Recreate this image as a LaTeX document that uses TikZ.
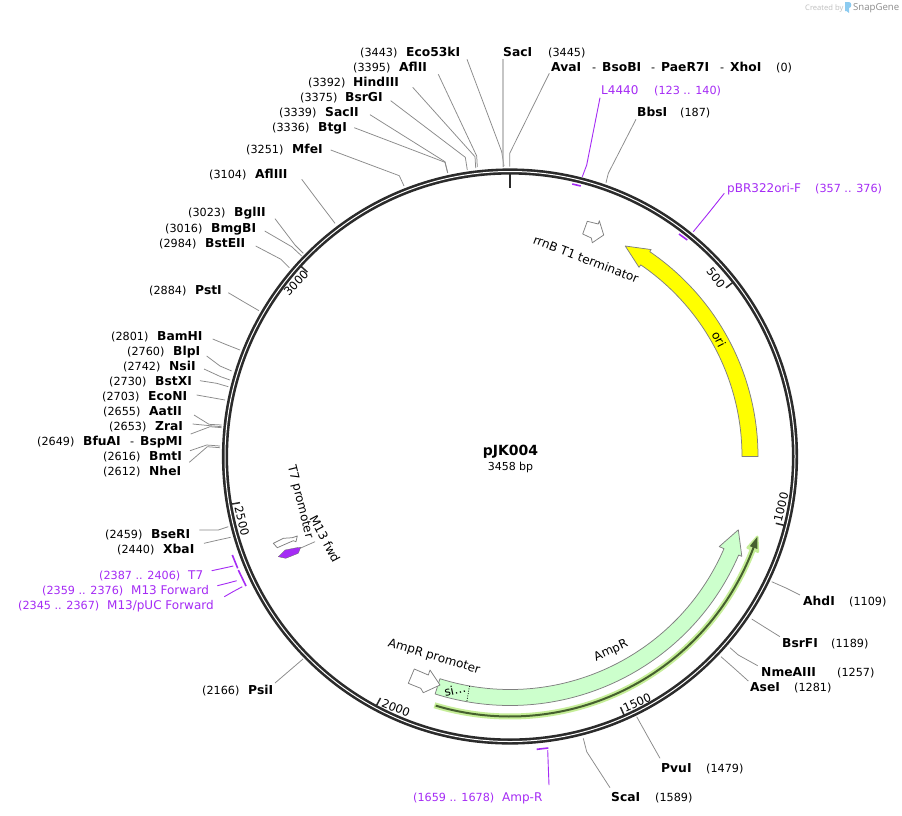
\documentclass[tikz,border=0pt]{standalone}
\usepackage{fontspec}
\setmainfont{DejaVu Sans}
\newfontfamily\logofont{Open Sans}
\definecolor{ringdark}{HTML}{2B2B2B}
\definecolor{prim}{HTML}{A52BF5}
\definecolor{linkgray}{HTML}{8A8A8A}
\definecolor{ampfill}{HTML}{CCFFCC}
\definecolor{orifill}{HTML}{FFFF00}
\definecolor{halo}{HTML}{C6EE98}
\definecolor{orfdark}{HTML}{46602F}
\definecolor{logoblue}{HTML}{8CCBF0}
\def\pol#1#2{{510+(#1)*cos(#2)},{456.5-(#1)*sin(#2)}}
\tikzset{
 arcsamp/.style={samples=70,variable=\t},
 numlab/.style={inner sep=0pt,anchor=base west,font=\fontsize{11.2}{13}\selectfont,text=black},
 namelab/.style={inner sep=0pt,anchor=base west,font=\fontsize{12.3}{14}\bfseries\selectfont,text=black},
 primnum/.style={inner sep=0pt,anchor=base west,font=\fontsize{11.2}{13}\selectfont,text=prim},
 primname/.style={inner sep=0pt,anchor=base west,font=\fontsize{12}{14}\selectfont,text=prim},
 featlab/.style={inner sep=0pt,font=\fontsize{12}{14}\selectfont,text=black},
 ticklab/.style={inner sep=0pt,font=\fontsize{11.5}{14}\selectfont,text=black},
 sitelink/.style={draw=linkgray,line width=0.75pt},
 primlink/.style={draw=prim,line width=0.9pt},
 primtick/.style={draw=prim,line width=1.6pt},
 ringtick/.style={draw=ringdark,line width=1.5pt},
 featarrow/.style={draw=gray,line width=0.75pt,line join=round},
}
% id, number x, number, name x, name, y
\newcommand{\enz}[6]{%
 \node[numlab] (#1num) at (#2,#6+4) {#3};
 \node[namelab] (#1name) at (#4,#6+4) {#5};}
\newcommand{\prm}[6]{%
 \node[primnum] (#1num) at (#2,#6+4) {#3};
 \node[primname] (#1name) at (#4,#6+4) {#5};}
% id, label end, elbow, ring end
\newcommand{\lnk}[4]{%
 \coordinate (#1s) at (#2); \coordinate (#1b) at (#3); \coordinate (#1e) at (#4);
 \draw[sitelink] (#1s) -- (#1b) -- (#1e);}
\newcommand{\plnk}[4]{%
 \coordinate (#1s) at (#2); \coordinate (#1b) at (#3); \coordinate (#1e) at (#4);
 \draw[primlink] (#1s) -- (#1b) -- (#1e);}
\begin{document}
\begin{tikzpicture}[x=1pt,y=-1pt]
\useasboundingbox (0,0) rectangle (902,815);
\fill[white] (0,0) rectangle (902,815);
% logo
\node[inner sep=0pt,anchor=base west,font=\logofont\fontsize{7.6}{9}\selectfont,text=black!25] (created) at (805,10) {Created by};
\fill[logoblue] (845,2) -- (849,2) .. controls (852,2) and (852,8) .. (849,8) -- (849,13) -- (846.5,11) -- (845,11) -- cycle;
\node[inner sep=0pt,anchor=base west,font=\logofont\fontsize{9.6}{11}\selectfont,text=black!45] (snapgene) at (853,10.5) {SnapGene};
% ring
\node[draw=ringdark,line width=6.2pt,circle,minimum size=570pt,inner sep=0pt] (ring) at (510,456.5) {};
\node[draw=white,line width=1pt,circle,minimum size=570pt,inner sep=0pt] (ringgap) at (510,456.5) {};
% position ticks
\draw[ringtick,line width=2.4pt] (\pol{283}{90}) -- (\pol{269}{90});
\draw[ringtick] (\pol{283}{38}) -- (\pol{274}{38});
\draw[ringtick] (\pol{283}{-14.1}) -- (\pol{274}{-14.1});
\draw[ringtick] (\pol{283}{-66.2}) -- (\pol{274}{-66.2});
\draw[ringtick] (\pol{283}{-118.2}) -- (\pol{274}{-118.2});
\draw[ringtick] (\pol{283}{-170.3}) -- (\pol{274}{-170.3});
\draw[ringtick] (\pol{283}{137.7}) -- (\pol{274}{137.7});
\node[ticklab,rotate=-52] (t500) at (716,278) {500};
\node[ticklab,rotate=76] (t1000) at (781,507) {1000};
\node[ticklab,rotate=24] (t1500) at (637,703) {1500};
\node[ticklab,rotate=-22] (t2000) at (396,708) {2000};
\node[ticklab,rotate=-76] (t2500) at (242,521) {2500};
\node[ticklab,rotate=46] (t3000) at (296,283) {3000};
% centre
\node[inner sep=0pt,font=\fontsize{14}{16}\bfseries\selectfont] (title) at (510.5,452) {pJK004};
\node[inner sep=0pt,font=\fontsize{11}{13}\selectfont] (size) at (510.5,467) {3458 bp};
% ori
\draw[featarrow,fill=orifill] plot[arcsamp,domain=0:55.7] ({510+248*cos(\t)},{456.5-248*sin(\t)}) -- (\pol{250.5}{55.7}) -- (\pol{240}{61.3}) -- (\pol{229}{55.7}) -- plot[arcsamp,domain=55.7:0] ({510+232*cos(\t)},{456.5-232*sin(\t)}) -- cycle;
\node[featlab,rotate=-63] (ori) at (719,339) {ori};
% AmpR
\draw[featarrow,fill=ampfill] plot[arcsamp,domain=252.5:336.7] ({510+249*cos(\t)},{456.5-249*sin(\t)}) -- (\pol{252.4}{336.7}) -- (\pol{239.8}{342.2}) -- (\pol{227.8}{336.7}) -- plot[arcsamp,domain=336.7:252.5] ({510+233*cos(\t)},{456.5-233*sin(\t)}) -- cycle;
\draw[black,line width=0.7pt,dash pattern=on 1pt off 1.4pt] (\pol{233}{260}) -- (\pol{249}{260});
\node[featlab,rotate=12] (si) at (455,690) {si…};
\node[featlab,rotate=25] (amplab) at (611,651) {AmpR};
% ORF line
\draw[halo,line width=6pt] plot[arcsamp,domain=253.1:339.5] ({510+260*cos(\t)},{456.5-260*sin(\t)});
\draw[halo,line width=2.5pt,fill=halo,line join=round] (\pol{254.5}{339}) -- (\pol{260}{342}) -- (\pol{265.5}{339}) -- cycle;
\draw[orfdark,line width=2pt] plot[arcsamp,domain=253.4:340] ({510+260*cos(\t)},{456.5-260*sin(\t)});
\fill[orfdark] (\pol{256}{339.5}) -- (\pol{260}{342}) -- (\pol{264}{339.5}) -- cycle;
% small feature arrows
\draw[featarrow,fill=white] (587.3,221.3) -- (598.3,224) -- (599.3,220.7) -- (603.7,235) -- (592.3,242.7) -- (591.3,238) -- (582.7,234) -- cycle;
\node[featlab,rotate=-21] (rrnb) at (586,259) {rrnB T1 terminator};
\draw[featarrow,fill=white] (414.3,669) -- (428.3,675) -- (430,670) -- (440,685) -- (423.3,692.7) -- (420.7,688.3) -- (408.3,683.3) -- cycle;
\node[featlab,rotate=-17] (ampprom) at (434,657) {AmpR promoter};
\draw[featarrow,fill=white] (273.3,543.3) -- (283.3,538.3) -- (292.3,537.7) -- (297.3,536) -- (296,541.7) -- (293.3,540.7) -- (285,544.3) -- (277.3,547.7) -- cycle;
\node[featlab,rotate=-76] (t7p) at (300,502) {T7 promoter};
\fill[prim,draw=black!60,line width=0.3pt] (278.3,556.7) -- (285,550) -- (296.7,547.7) -- (300.7,547.3) -- (298.3,553.3) -- (285.7,558.3) -- cycle;
\coordinate (m13s) at (300,548.3); \coordinate (m13e) at (315,541.7);
\draw[sitelink] (m13s) -- (m13e);
\node[featlab,rotate=-62] (m13f) at (325,539) {M13 fwd};
% top enzymes
\enz{ecof}{360}{(3443)}{406}{Eco53kI}{52}
\lnk{ecof}{467,59.3}{501.7,151.7}{504,166}
\enz{aflii}{353}{(3395)}{399}{AflII}{67}
\lnk{aflii}{438.3,74.3}{476.7,156}{477.3,167}
\enz{hind}{308}{(3392)}{353}{HindIII}{82}
\lnk{hind}{412.7,87.3}{475,156.7}{475.7,168}
\enz{bsrg}{300}{(3375)}{345}{BsrGI}{97}
\lnk{bsrg}{390.7,100.7}{465.3,157.3}{467.3,170}
\enz{sacii}{279}{(3339)}{325}{SacII}{112}
\lnk{sacii}{370,114.7}{445,161.7}{447.7,173}
\enz{btgi}{272}{(3336)}{318}{BtgI}{127}
\lnk{btgi}{354.3,127.7}{445,162.3}{447.7,173}
\enz{mfei}{246}{(3251)}{292}{MfeI}{149}
\lnk{mfei}{330.7,150}{399.3,175.7}{404,186}
\enz{afliii}{209}{(3104)}{255}{AflIII}{174}
\lnk{afliii}{301.7,179.3}{318,201}{335,223.3}
\enz{bglii}{188}{(3023)}{234}{BglII}{212}
\lnk{bglii}{275,218.7}{295,245}{303.3,253.3}
\enz{bmgb}{165}{(3016)}{211}{BmgBI}{228}
\lnk{bmgb}{264.7,231}{291.7,246.7}{301.7,256}
\enz{bste}{159}{(2984)}{205}{BstEII}{243}
\lnk{bste}{255.7,246}{281,259.3}{289.3,267.7}
\enz{psti}{149}{(2884)}{195}{PstI}{290}
\lnk{psti}{228.3,292.7}{244,302}{259,310.7}
\enz{bamh}{111}{(2801)}{157}{BamHI}{336}
\lnk{bamh}{212.7,339}{226,344.5}{240,350}
\enz{blpi}{127}{(2760)}{173}{BlpI}{351}
\lnk{blpi}{206.7,356}{220,366}{231.7,371}
\enz{nsii}{123}{(2742)}{169}{NsiI}{366}
\lnk{nsii}{204,369}{220.7,376.7}{230,380}
\enz{bstx}{109}{(2730)}{155}{BstXI}{381}
\lnk{bstx}{200,380.7}{216.7,383.3}{228.3,386.7}
\enz{econ}{102}{(2703)}{148}{EcoNI}{396}
\lnk{econ}{196.7,395}{211,397.5}{225,400}
\enz{aatii}{103}{(2655)}{149}{AatII}{411}
\lnk{aatii}{194,415}{209,424.3}{221.7,425}
\enz{zrai}{109}{(2653)}{155}{ZraI}{426}
\lnk{zrai}{192.7,424}{210,425.7}{221.7,426.7}
\enz{bfua}{37}{(2649)}{83}{BfuAI}{441}
\node[numlab] (bfudash) at (130,445) {-};
\node[namelab] (bspm) at (140,445) {BspMI};
\lnk{bfua}{190.7,434}{210,426.7}{221.7,427.7}
\lnk{bspm}{190,450.7}{206.7,445}{220,446}
\enz{bmti}{103}{(2616)}{149}{BmtI}{456}
\lnk{bmti}{189.3,462.3}{207.3,446.7}{220,447.7}
\enz{nhei}{103}{(2612)}{149}{NheI}{471}
\enz{bser}{105}{(2459)}{151}{BseRI}{534}
\lnk{bser}{199.3,530}{218.3,530}{228.3,526.7}
\enz{xbai}{117}{(2440)}{163}{XbaI}{549}
\lnk{xbai}{204,543.3}{217,540.3}{230.7,537.3}
\enz{psii}{202}{(2166)}{248}{PsiI}{690}
\lnk{psii}{275,683}{289,671}{303,659}
% top
\node[namelab] (saciname) at (503,56) {SacI};
\node[numlab] (sacinum) at (548,56) {(3445)};
\coordinate (sacis) at (503,59); \coordinate (sacib) at (503,155); \coordinate (sacie) at (503.3,167);
\draw[draw=black!35,line width=1.1pt] (sacis) -- (sacib) -- (sacie);
\node[namelab] (avai) at (551,71) {AvaI};
\node[numlab] (d1) at (592,71) {-};
\node[namelab] (bsob) at (602,71) {BsoBI};
\node[numlab] (d2) at (651,71) {-};
\node[namelab] (paer) at (661,71) {PaeR7I};
\node[numlab] (d3) at (720,71) {-};
\node[namelab] (xhoi) at (730,71) {XhoI};
\node[numlab] (xhonum) at (776,71) {(0)};
\lnk{avaic}{549.3,73.3}{509.7,153.3}{509.7,166.7}
\node[namelab] (bbsname) at (637,116) {BbsI};
\node[numlab] (bbsnum) at (680,116) {(187)};
\lnk{bbs}{636,119.3}{608.3,173.3}{606,182.7}
% right/bottom
\node[namelab] (ahdname) at (803,605) {AhdI};
\node[numlab] (ahdnum) at (849,605) {(1109)};
\lnk{ahd}{800,595}{786,588}{771.7,581.7}
\node[namelab] (bsrfname) at (782,647) {BsrFI};
\node[numlab] (bsrfnum) at (831,647) {(1189)};
\lnk{bsrf}{780,636.7}{766,628}{751.7,619}
\node[namelab] (nmename) at (761,676) {NmeAIII};
\node[numlab] (nmenum) at (837,676) {(1257)};
\lnk{nme}{757.7,665.7}{738.3,655}{730,647.7}
\node[namelab] (asename) at (750,691) {AseI};
\node[numlab] (asenum) at (794,691) {(1281)};
\lnk{ase}{748.3,681}{735,669}{721,656.7}
\node[namelab] (pvuname) at (661,772) {PvuI};
\node[numlab] (pvunum) at (706,772) {(1479)};
\lnk{pvu}{660,758.3}{648,737}{636.7,716.7}
\node[namelab] (scaname) at (611,801) {ScaI};
\node[numlab] (scanum) at (655,801) {(1589)};
\lnk{sca}{610,787.7}{586.7,751.7}{583.3,738.3}
% primers
\node[primname] (l44name) at (601,94) {L4440};
\node[primnum] (l44num) at (654,94) {(123 .. 140)};
\plnk{l44}{600,97.7}{586.7,165}{582.3,176.7}
\coordinate (l44a) at (572.3,184); \coordinate (l44z) at (580.7,186);
\draw[primtick] (l44a) -- (l44z);
\node[primname] (pbrname) at (727,192) {pBR322ori-F};
\node[primnum] (pbrnum) at (815,192) {(357 .. 376)};
\plnk{pbr}{724.3,193.3}{709,212.5}{693.3,231.7}
\coordinate (pbra) at (679,234); \coordinate (pbrz) at (687.3,240);
\draw[primtick] (pbra) -- (pbrz);
\prm{ampr}{413}{(1659 .. 1678)}{502}{Amp-R}{797}
\plnk{ampr}{549,785}{548.3,767}{547.7,750}
\coordinate (ampra) at (536.7,749.3); \coordinate (amprz) at (548.3,748);
\draw[primtick] (ampra) -- (amprz);
\prm{tseven}{99}{(2387 .. 2406)}{188}{T7}{575}
\plnk{tseven}{211.7,570.7}{222,568.5}{233.3,566}
\coordinate (tsevena) at (232.3,555); \coordinate (tsevenz) at (237.7,568.3);
\draw[primtick] (tsevena) -- (tsevenz);
\prm{mfw}{42}{(2359 .. 2376)}{131}{M13 Forward}{590}
\plnk{mfw}{217.3,585.7}{227,583.3}{236.7,580.7}
\coordinate (mfwa) at (238.3,570); \coordinate (mfwz) at (246,586);
\draw[primtick] (mfwa) -- (mfwz);
\prm{muc}{18}{(2345 .. 2367)}{107}{M13/pUC Forward}{605}
\plnk{muc}{224.3,596.7}{233,591.7}{242.3,586.7}
\end{tikzpicture}
\end{document}
